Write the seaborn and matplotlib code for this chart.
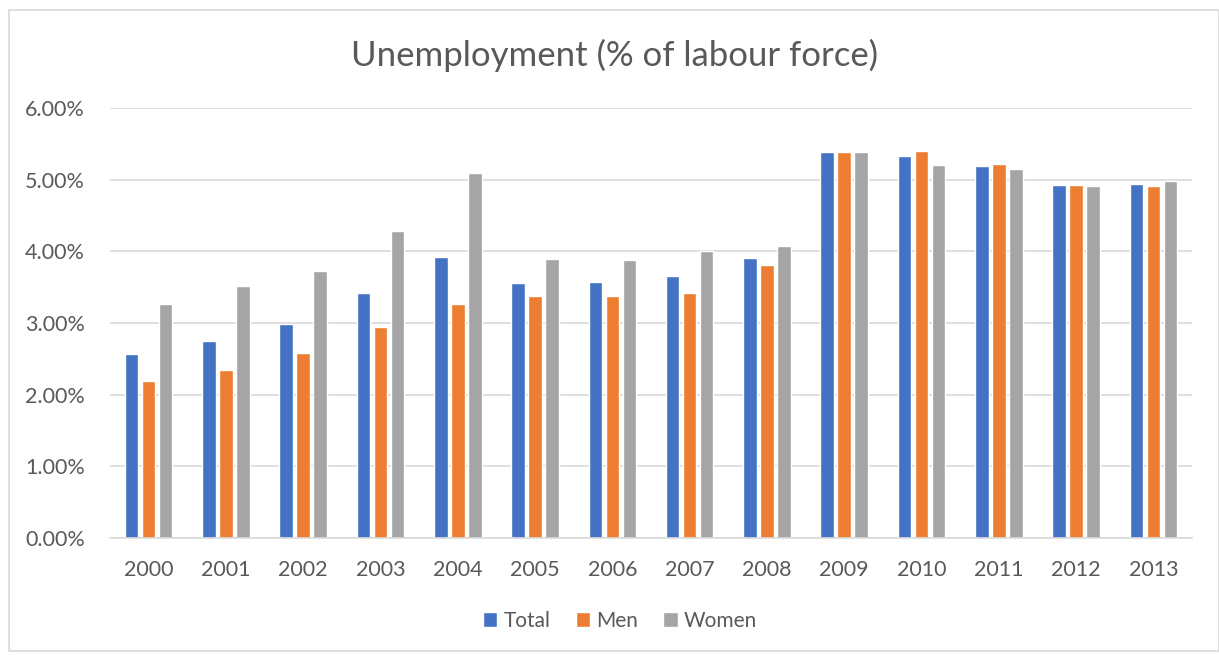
import matplotlib
matplotlib.use("Agg")
import matplotlib.pyplot as plt
from matplotlib.patches import Rectangle
from matplotlib.ticker import PercentFormatter
import seaborn as sns
import pandas as pd

years = [str(y) for y in range(2000, 2014)]
total = [2.57, 2.75, 2.98, 3.42, 3.92, 3.56, 3.57, 3.65, 3.91, 5.38, 5.33, 5.19, 4.92, 4.94]
men = [2.19, 2.35, 2.58, 2.94, 3.27, 3.37, 3.38, 3.42, 3.81, 5.38, 5.40, 5.22, 4.92, 4.91]
women = [3.26, 3.51, 3.72, 4.29, 5.09, 3.90, 3.88, 4.01, 4.07, 5.38, 5.21, 5.15, 4.91, 4.98]
series = ["Total", "Men", "Women"]
colors = ["#4472C4", "#ED7D31", "#A5A5A5"]

df = pd.DataFrame({"Year": years * 3,
                   "Series": [s for s in series for _ in years],
                   "Value": total + men + women})

sns.set_theme(style="white")
plt.rcParams["font.family"] = ["Lato", "DejaVu Sans"]
text_color = "#595959"

fig = plt.figure(figsize=(12.19, 6.55), dpi=100)
ax = fig.add_axes([110 / 1219, 1 - 538 / 655, (1192 - 110) / 1219, (538 - 108) / 655])

sns.barplot(data=df, x="Year", y="Value", hue="Series", palette=colors,
            width=0.66, gap=0.2, ax=ax, legend=True, saturation=1)

ax.set_ylim(0, 6)
ax.set_xlim(-0.5, len(years) - 0.5)
ax.set_yticks([0, 1, 2, 3, 4, 5, 6])
ax.yaxis.set_major_formatter(PercentFormatter(decimals=2))
ax.grid(axis="y", color="#D9D9D9", linewidth=1.2)
ax.set_axisbelow(True)
for side in ["top", "right", "left"]:
    ax.spines[side].set_visible(False)
ax.spines["bottom"].set_color("#D9D9D9")
ax.spines["bottom"].set_linewidth(1.2)
ax.tick_params(axis="both", length=0, labelsize=15.5, colors=text_color)
ax.tick_params(axis="y", pad=18)
ax.tick_params(axis="x", pad=16)
ax.set_xlabel("")
ax.set_ylabel("")

fig.text(615 / 1219, 1 - 55 / 655, "Unemployment (% of labour force)",
         fontsize=25, color=text_color, ha="center", va="center")

handles, labels = ax.get_legend_handles_labels()
ax.legend(handles, labels, loc="center", bbox_to_anchor=(620 / 1219, 1 - 621 / 655),
          bbox_transform=fig.transFigure,
          ncol=3, frameon=False, fontsize=15, labelcolor=text_color,
          handlelength=0.7, handleheight=0.7, handletextpad=0.3, columnspacing=1.2)

fig.patches.append(Rectangle((9 / 1219, 4 / 655), 1 - 9 / 1219, 1 - 14 / 655,
                             transform=fig.transFigure, fill=False,
                             edgecolor="#D9D9D9", linewidth=1.2))

fig.savefig("out.png", dpi=100)
